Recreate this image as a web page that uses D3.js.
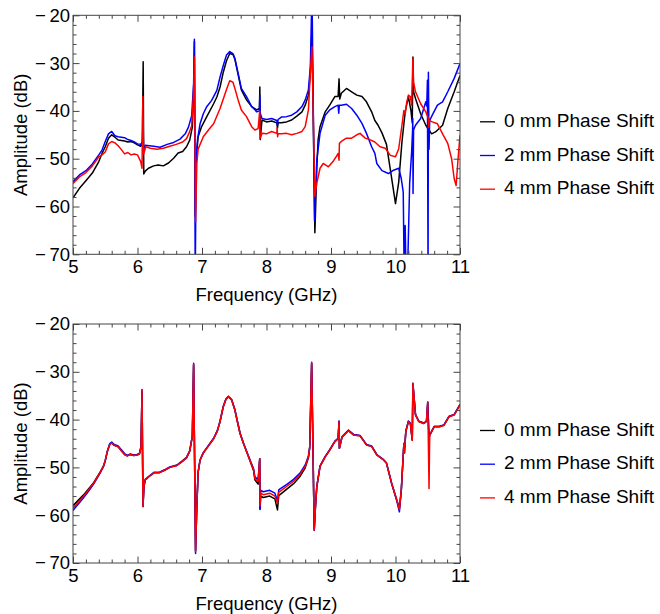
<!DOCTYPE html>
<html>
<head>
<meta charset="utf-8">
<script src="https://cdnjs.cloudflare.com/ajax/libs/d3/7.8.5/d3.min.js"></script>
<style>
body { margin: 0; background: #fff; }
svg { font-family: "Liberation Sans", Arial, sans-serif; }
</style>
</head>
<body>
<svg id="chart" width="660" height="614"></svg>
<script>
// ---- data ----
const xTicks = [5, 6, 7, 8, 9, 10, 11];
const yTicks = [-70, -60, -50, -40, -30, -20];
const seriesNames = ["0 mm Phase Shift", "2 mm Phase Shift", "4 mm Phase Shift"];

// top panel: [GHz, dB]
const top0 = [[5.0,-58.2],[5.1,-56.2],[5.2,-54.6],[5.3,-53.0],[5.4,-50.6],[5.45,-48.9],[5.5,-47.5],[5.55,-45.7],[5.6,-45.0],[5.65,-45.5],
  [5.7,-46.1],[5.75,-46.2],[5.8,-46.3],[5.85,-46.5],[5.9,-46.4],[5.95,-46.7],[6.0,-47.1],[6.05,-47.4],[6.075,-47.0],[6.088,-29.7],
  [6.097,-53.2],[6.12,-52.6],[6.17,-52.0],[6.25,-51.5],[6.32,-51.3],[6.4,-51.5],[6.48,-50.9],[6.56,-49.9],[6.63,-48.8],[6.7,-48.5],
  [6.76,-47.5],[6.81,-46.1],[6.85,-43.4],[6.87,-36.0],[6.882,-25.5],[6.895,-62.0],[6.91,-50.0],[6.94,-45.4],[6.99,-43.4],[7.07,-41.3],
  [7.18,-38.5],[7.23,-37.1],[7.28,-35.0],[7.33,-31.9],[7.38,-29.5],[7.43,-28.0],[7.48,-28.2],[7.51,-29.2],[7.56,-32.4],[7.61,-35.6],
  [7.69,-37.7],[7.77,-39.1],[7.85,-39.8],[7.89,-39.5],[7.897,-35.0],[7.903,-46.0],[7.93,-41.9],[8.0,-42.3],[8.08,-42.1],[8.16,-42.5],
  [8.17,-43.6],[8.18,-42.5],[8.23,-42.5],[8.31,-42.3],[8.39,-41.9],[8.47,-41.1],[8.55,-40.2],[8.6,-38.8],[8.65,-36.7],[8.68,-32.0],
  [8.705,-23.0],[8.75,-65.5],[8.78,-52.0],[8.8,-46.0],[8.83,-43.3],[8.91,-40.2],[8.98,-38.8],[9.06,-37.0],[9.11,-37.0],[9.125,-33.3],
  [9.135,-37.5],[9.16,-36.3],[9.24,-35.3],[9.32,-36.0],[9.4,-36.7],[9.48,-37.0],[9.55,-38.1],[9.63,-40.2],[9.68,-42.0],[9.73,-43.0],
  [9.79,-44.6],[9.86,-47.0],[9.92,-52.3],[10.0,-59.4],[10.05,-54.9],[10.1,-46.5],[10.15,-40.2],[10.2,-37.0],[10.24,-40.0],[10.26,-42.5],
  [10.27,-28.7],[10.28,-36.0],[10.31,-37.4],[10.39,-40.6],[10.47,-43.0],[10.56,-44.8],[10.62,-44.4],[10.73,-43.0],[10.81,-39.5],[10.91,-36.0],
  [11.0,-32.6]];

const top2 = [[5.0,-54.8],[5.1,-53.4],[5.2,-52.5],[5.3,-51.1],[5.4,-49.2],[5.45,-48.2],[5.5,-46.4],[5.55,-44.8],[5.6,-44.3],[5.65,-45.2],
  [5.7,-45.4],[5.75,-45.5],[5.8,-45.6],[5.85,-46.0],[5.9,-46.2],[5.95,-46.5],[6.0,-46.9],[6.05,-47.0],[6.075,-46.5],[6.085,-43.5],
  [6.095,-48.0],[6.12,-47.2],[6.25,-47.4],[6.35,-47.6],[6.46,-47.0],[6.56,-46.6],[6.66,-45.9],[6.74,-44.8],[6.79,-43.4],[6.84,-41.0],
  [6.87,-34.3],[6.882,-25.0],[6.895,-75.0],[6.91,-50.0],[6.93,-46.0],[6.97,-42.7],[7.02,-40.6],[7.07,-39.2],[7.15,-37.8],[7.23,-35.7],
  [7.28,-32.9],[7.33,-30.5],[7.38,-28.3],[7.43,-27.6],[7.48,-28.0],[7.51,-29.0],[7.56,-32.1],[7.61,-35.3],[7.69,-37.0],[7.77,-39.1],
  [7.85,-40.2],[7.89,-40.0],[7.897,-36.7],[7.903,-40.5],[7.93,-41.6],[8.0,-41.8],[8.08,-41.6],[8.16,-42.0],[8.17,-43.0],[8.18,-41.8],
  [8.23,-41.3],[8.31,-41.2],[8.39,-40.9],[8.47,-40.2],[8.55,-39.1],[8.6,-37.7],[8.65,-35.6],[8.68,-30.7],[8.705,-15.0],[8.745,-63.0],
  [8.78,-50.3],[8.83,-44.7],[8.91,-40.9],[8.98,-39.8],[9.06,-39.1],[9.11,-38.8],[9.12,-40.5],[9.13,-38.8],[9.16,-38.8],[9.24,-38.6],
  [9.32,-39.5],[9.4,-40.9],[9.48,-42.6],[9.55,-44.7],[9.63,-47.5],[9.68,-48.9],[9.71,-51.0],[9.79,-52.5],[9.89,-53.1],[9.97,-52.4],
  [10.05,-52.0],[10.09,-54.2],[10.12,-57.0],[10.135,-75.0],[10.15,-64.0],[10.165,-75.0],[10.19,-72.0],[10.22,-55.0],[10.25,-48.6],[10.265,-44.0],[10.268,-41.6],
  [10.272,-57.3],[10.28,-44.0],[10.31,-43.0],[10.39,-41.6],[10.47,-38.1],[10.485,-39.0],[10.495,-33.6],[10.5,-55.0],[10.505,-75.0],[10.51,-31.9],
  [10.52,-48.0],[10.53,-42.0],[10.57,-40.9],[10.65,-38.8],[10.73,-38.1],[10.81,-36.0],[10.91,-33.2],[11.0,-30.1]];

const top4 = [[5.0,-55.2],[5.1,-53.8],[5.2,-52.9],[5.3,-51.5],[5.4,-49.6],[5.45,-49.2],[5.5,-48.6],[5.55,-46.9],[5.6,-46.4],[5.65,-46.7],
  [5.7,-47.3],[5.75,-48.1],[5.8,-49.0],[5.85,-48.7],[5.9,-49.2],[5.95,-49.0],[6.0,-49.2],[6.05,-50.6],[6.07,-52.0],[6.083,-37.0],
  [6.095,-49.0],[6.13,-47.5],[6.2,-47.8],[6.3,-48.0],[6.4,-47.8],[6.5,-47.4],[6.6,-47.0],[6.7,-46.5],[6.76,-45.8],[6.8,-44.6],
  [6.84,-43.1],[6.87,-36.0],[6.883,-28.7],[6.9,-63.2],[6.92,-51.0],[6.94,-48.0],[7.02,-45.4],[7.1,-44.0],[7.18,-42.7],[7.28,-39.5],
  [7.38,-35.5],[7.43,-33.7],[7.48,-34.0],[7.51,-35.3],[7.56,-37.7],[7.61,-39.8],[7.69,-41.2],[7.77,-43.3],[7.82,-44.0],[7.87,-43.7],
  [7.895,-40.0],[7.902,-45.7],[7.93,-44.7],[8.0,-44.8],[8.08,-44.3],[8.16,-44.7],[8.165,-43.6],[8.172,-45.4],[8.18,-44.8],[8.23,-44.8],
  [8.31,-44.7],[8.39,-45.0],[8.47,-44.7],[8.55,-44.3],[8.6,-43.3],[8.65,-39.8],[8.68,-32.0],[8.705,-26.6],[8.75,-57.9],[8.78,-55.1],
  [8.83,-52.0],[8.88,-51.0],[8.96,-51.7],[9.03,-50.6],[9.08,-49.6],[9.11,-48.9],[9.125,-50.3],[9.13,-46.8],[9.16,-46.4],[9.24,-45.7],
  [9.32,-45.7],[9.4,-45.0],[9.45,-44.7],[9.53,-45.7],[9.6,-46.0],[9.68,-46.5],[9.76,-47.5],[9.84,-47.8],[9.92,-49.3],[10.0,-49.6],
  [10.05,-47.9],[10.1,-43.0],[10.13,-39.9],[10.15,-40.8],[10.17,-38.5],[10.2,-36.7],[10.23,-37.0],[10.25,-38.8],[10.27,-29.0],[10.28,-34.0],
  [10.31,-36.0],[10.39,-38.5],[10.47,-40.2],[10.51,-41.6],[10.515,-43.4],[10.52,-42.0],[10.57,-42.3],[10.65,-42.7],[10.73,-44.8],[10.81,-46.8],
  [10.87,-50.0],[10.91,-54.2],[10.94,-55.6],[10.97,-50.0],[11.0,-45.1]];

// bottom panel: one frequency grid, three value lists
const bottomFreq = [5.0,5.08,5.16,5.24,5.32,5.42,5.47,5.5,5.53,5.57,
  5.6,5.64,5.7,5.75,5.8,5.84,5.89,5.94,5.99,6.03,
  6.055,6.07,6.085,6.1,6.12,6.18,6.26,6.34,6.42,6.5,
  6.61,6.69,6.76,6.81,6.85,6.87,6.9,6.92,6.94,6.97,
  7.02,7.1,7.18,7.24,7.28,7.33,7.37,7.41,7.46,7.51,
  7.55,7.59,7.64,7.72,7.8,7.82,7.87,7.895,7.9,7.91,
  7.95,8.05,8.13,8.17,8.19,8.21,8.31,8.42,8.52,8.6,
  8.65,8.67,8.7,8.74,8.76,8.78,8.83,8.91,8.98,9.06,
  9.11,9.125,9.13,9.17,9.27,9.35,9.45,9.55,9.63,9.71,
  9.81,9.86,9.94,10.02,10.06,10.09,10.13,10.14,10.16,10.2,
  10.23,10.26,10.27,10.31,10.36,10.44,10.48,10.5,10.52,10.53,
  10.6,10.68,10.75,10.83,10.91,11.0];

const bottom0 = [-58.0,-56.9,-55.8,-54.5,-53.2,-51.0,-49.8,-48.6,-46.8,-45.2,
  -44.9,-45.4,-45.7,-46.5,-47.3,-47.6,-47.3,-47.5,-47.4,-47.2,
  -45.7,-34.2,-58.2,-54.0,-52.6,-51.9,-51.1,-51.1,-50.6,-50.0,
  -49.6,-48.8,-48.0,-46.6,-43.5,-28.6,-67.4,-58.0,-51.0,-48.5,
  -47.0,-45.5,-44.0,-42.3,-40.4,-37.3,-35.8,-35.2,-35.9,-38.0,
  -40.5,-42.9,-44.9,-47.7,-50.7,-52.6,-53.5,-48.2,-58.8,-56.0,
  -56.3,-56.0,-56.6,-58.9,-55.9,-55.7,-54.6,-53.4,-51.9,-50.1,
  -48.0,-45.9,-28.3,-63.0,-58.0,-54.0,-49.8,-47.8,-46.4,-44.6,
  -44.0,-40.4,-46.0,-43.7,-42.3,-43.2,-43.4,-45.3,-45.6,-47.4,
  -48.4,-49.1,-53.3,-56.8,-58.6,-54.7,-45.0,-46.0,-42.5,-40.4,
  -40.8,-44.3,-32.6,-39.0,-40.4,-40.8,-40.4,-36.5,-44.0,-43.3,
  -41.5,-41.5,-41.2,-39.4,-39.0,-36.9];

const bottom2 = [-59.0,-57.7,-56.4,-55.0,-53.5,-51.2,-49.9,-48.6,-46.7,-45.0,
  -44.7,-45.2,-45.5,-46.3,-47.1,-47.5,-47.2,-47.4,-47.3,-47.1,
  -45.6,-33.7,-58.0,-54.0,-52.5,-51.8,-51.0,-51.0,-50.5,-49.9,
  -49.5,-48.7,-47.9,-46.5,-43.4,-28.2,-68.0,-58.0,-51.0,-48.4,
  -46.9,-45.4,-43.9,-42.2,-40.3,-37.2,-35.7,-35.1,-35.8,-37.9,
  -40.4,-42.8,-44.8,-47.6,-50.3,-52.0,-52.5,-48.2,-58.6,-54.8,
  -55.1,-54.8,-55.4,-57.0,-54.7,-54.5,-53.6,-52.5,-51.2,-49.5,
  -47.6,-45.7,-28.0,-63.2,-58.0,-54.0,-49.7,-47.7,-46.3,-44.5,
  -43.9,-40.3,-46.0,-43.6,-42.2,-43.1,-43.3,-45.2,-45.5,-47.3,
  -48.3,-49.1,-53.4,-57.0,-59.3,-54.8,-45.0,-47.0,-42.4,-40.3,
  -40.7,-44.2,-32.4,-38.9,-40.3,-40.7,-40.3,-36.3,-44.0,-43.2,
  -41.4,-41.4,-41.1,-39.3,-38.9,-36.8];

const bottom4 = [-58.6,-57.3,-56.1,-54.7,-53.3,-51.1,-49.8,-48.6,-46.8,-45.2,
  -44.9,-45.4,-45.7,-46.5,-47.3,-47.6,-47.3,-47.5,-47.4,-47.2,
  -45.7,-33.9,-58.2,-54.0,-52.6,-51.9,-51.1,-51.1,-50.6,-50.0,
  -49.6,-48.8,-48.0,-46.6,-43.5,-28.4,-67.6,-58.0,-51.0,-48.5,
  -47.0,-45.5,-44.0,-42.3,-40.4,-37.3,-35.8,-35.2,-35.9,-38.0,
  -40.5,-42.9,-44.9,-47.7,-50.5,-52.3,-53.0,-48.2,-58.0,-55.4,
  -55.7,-55.4,-56.0,-57.5,-55.2,-55.0,-54.0,-52.9,-51.5,-49.8,
  -47.8,-45.8,-28.1,-63.1,-58.0,-54.0,-49.8,-47.8,-46.4,-44.6,
  -44.0,-40.4,-46.0,-43.7,-42.3,-43.2,-43.4,-45.3,-45.6,-47.4,
  -48.4,-49.1,-53.3,-56.8,-58.8,-54.7,-45.0,-47.0,-42.5,-40.4,
  -40.8,-44.3,-32.4,-39.0,-40.4,-40.8,-40.4,-36.3,-54.4,-43.3,
  -41.5,-41.5,-41.2,-39.4,-39.0,-36.9];

// ---- drawing ----
const colors = ["#000000", "#0000ff", "#ff0000"];
const frameColor = "#444";
const fontSize = 18.5;

// Mathematica-style labels: wide minus sign
function tickLabel(d) {
    return d < 0 ? "\u2212\u2009" + Math.abs(d) : "" + d;
}

function drawPanel(svg, id, top, series) {
    let left = 73, right = 460, height = 239;
    let bottom = top + height;

    let x = d3.scaleLinear().domain([5, 11]).range([left, right]);
    let y = d3.scaleLinear().domain([-70, -20]).range([bottom, top]);

    let g = svg.append("g").attr("id", id);

    g.append("clipPath").attr("id", id + "-clip")
        .append("rect")
        .attr("x", left).attr("y", top)
        .attr("width", right - left).attr("height", height);

    let line = d3.line().x(d => x(d[0])).y(d => y(d[1]));

    let plot = g.append("g").attr("clip-path", "url(#" + id + "-clip)");
    series.forEach((s, i) => {
        plot.append("path")
            .datum(s)
            .attr("d", line)
            .attr("fill", "none")
            .attr("stroke", colors[i])
            .attr("stroke-width", 1.5)
            .attr("stroke-linejoin", "round");
    });

    // minor ticks on all four sides
    let xMinor = x.ticks(30).filter(v => xTicks.indexOf(v) < 0);
    let yMinor = y.ticks(25).filter(v => yTicks.indexOf(v) < 0);

    let axes = [
        [d3.axisBottom(x), "translate(0," + bottom + ")", xMinor, xTicks, true],
        [d3.axisTop(x), "translate(0," + top + ")", xMinor, xTicks, false],
        [d3.axisLeft(y), "translate(" + left + ",0)", yMinor, yTicks, true],
        [d3.axisRight(y), "translate(" + right + ",0)", yMinor, yTicks, false]
    ];

    axes.forEach(a => {
        let minor = a[0].tickValues(a[2]).tickSize(-3.5).tickSizeOuter(0).tickFormat("");
        g.append("g").attr("transform", a[1]).call(minor);

        let major = a[0].tickValues(a[3]).tickSize(-6.5).tickSizeOuter(0)
            .tickFormat(a[4] ? tickLabel : "")
            .tickPadding(a === axes[0] ? 6 : 3);
        g.append("g").attr("class", "major").attr("transform", a[1]).call(major);
    });

    g.selectAll(".domain").remove();
    g.selectAll(".tick line").attr("stroke", frameColor);
    g.selectAll(".tick text")
        .attr("fill", "#000")
        .style("font-size", fontSize + "px")
        .style("font-family", "'Liberation Sans', Arial, sans-serif");

    g.append("rect")
        .attr("x", left).attr("y", top)
        .attr("width", right - left).attr("height", height)
        .attr("fill", "none")
        .attr("stroke", frameColor)
        .attr("stroke-width", 1);

    g.append("text")
        .attr("x", (left + right) / 2)
        .attr("y", bottom + 47)
        .attr("text-anchor", "middle")
        .style("font-size", fontSize + "px")
        .text("Frequency (GHz)");

    g.append("text")
        .attr("transform", "translate(27," + (top + bottom) / 2 + ") rotate(-90)")
        .attr("text-anchor", "middle")
        .style("font-size", fontSize + "px")
        .text("Amplitude (dB)");

    // legend
    let legendTop = top + height / 2 - 13;
    seriesNames.forEach((name, i) => {
        let ly = legendTop + i * 33.7;
        g.append("line")
            .attr("x1", 480).attr("x2", 495)
            .attr("y1", ly).attr("y2", ly)
            .attr("stroke", colors[i])
            .attr("stroke-width", 1.3);
        g.append("text")
            .attr("x", 504)
            .attr("y", ly + 5)
            .style("font-size", "19px")
            .text(name);
    });
}

let svg = d3.select("#chart");

drawPanel(svg, "upper", 15.3, [top0, top2, top4]);

let toPairs = vals => bottomFreq.map((f, i) => [f, vals[i]]);
drawPanel(svg, "lower", 324, [toPairs(bottom0), toPairs(bottom2), toPairs(bottom4)]);
</script>
</body>
</html>
